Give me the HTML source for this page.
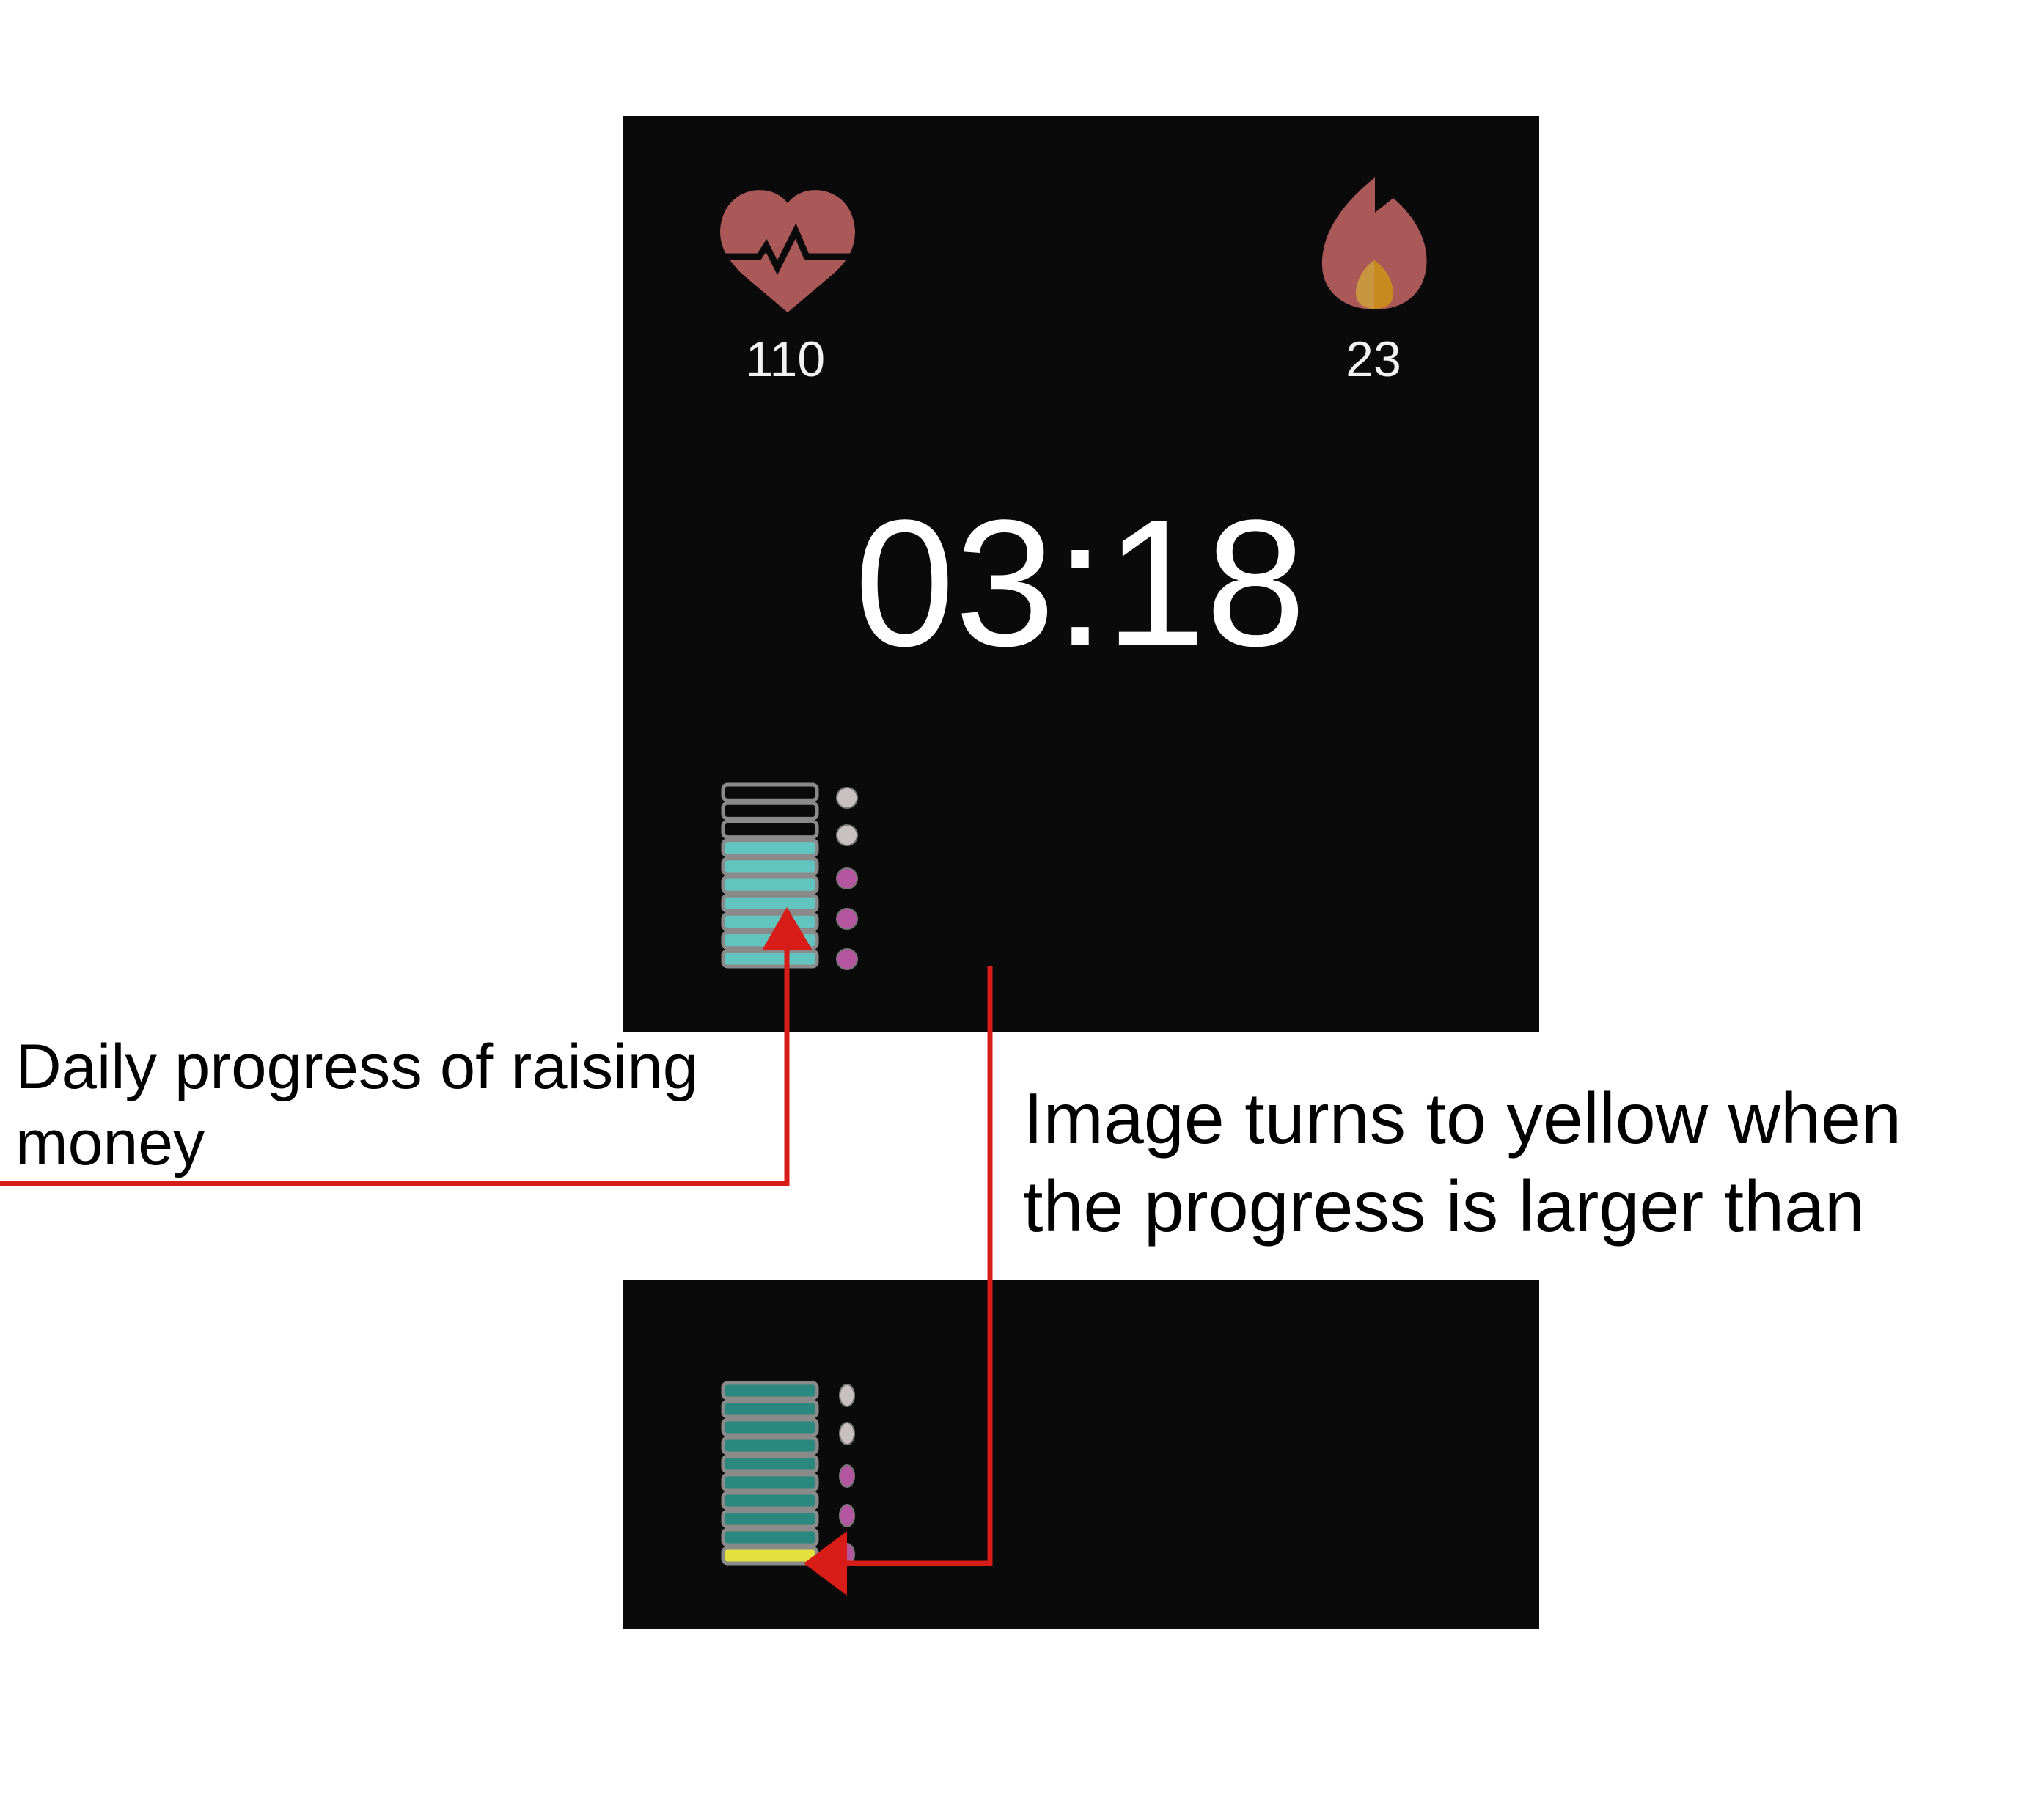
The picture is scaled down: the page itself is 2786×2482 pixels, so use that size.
<!DOCTYPE html>
<html><head><meta charset="utf-8"><style>
html,body{margin:0;padding:0;background:#fff;}
svg{display:block;}
text{font-family:"Liberation Sans",Arial,sans-serif;}
</style></head><body>
<svg id="chart" width="2786" height="2482" viewBox="0 0 2786 2482" xmlns="http://www.w3.org/2000/svg">
<rect x="0" y="0" width="2786" height="2482" fill="#ffffff"/>
<rect x="849" y="158" width="1250" height="1250" fill="#0b0a0b"/>
<g>
<path d="M1074,277 C1050,245 985,255 982,315 C982,345 1000,360 1010,372 L1074,426 L1138,372 C1150,360 1166,345 1166,315 C1163,255 1098,245 1074,277 Z" fill="#ab5858"/>
<polyline points="982,350 1035,350 1045,335 1060,365 1085,315 1100,350 1166,350" fill="none" stroke="#0b0a0b" stroke-width="9"/>
</g>
<text x="1071" y="513" font-size="68" fill="#f2f2f2" text-anchor="middle">110</text>
<g>
<path d="M1875,242 L1875,290 L1900,270 C1940,305 1948,340 1945,365 C1940,405 1910,422 1875,422 C1835,422 1803,400 1803,360 C1803,310 1840,270 1875,242 Z" fill="#ab5858"/>
<path d="M1874,355 C1890,365 1900,385 1900,400 C1900,415 1890,421 1874,421 C1858,421 1849,412 1849,400 C1849,385 1858,365 1874,355 Z" fill="#c8963e"/>
<path d="M1874,355 C1890,365 1900,385 1900,400 C1900,415 1890,421 1874,421 Z" fill="#c8891e"/>
</g>
<text x="1873" y="513" font-size="68" fill="#f2f2f2" text-anchor="middle">23</text>
<text x="1473" y="880" font-size="246" fill="#ffffff" text-anchor="middle">03:18</text>
<g id="bar1"></g>
<g id="dots1"></g>
<rect x="849" y="1745" width="1250" height="476" fill="#0b0a0b"/>
<g id="bar2"></g>
<g id="dots2"></g>
<g>
<polyline points="1073,1292 1073,1614 0,1614" fill="none" stroke="#d81c17" stroke-width="7"/>
<polygon points="1073,1237 1039,1296 1108,1296" fill="#d81c17"/>
</g>
<g>
<polyline points="1350,1317 1350,2132 1150,2132" fill="none" stroke="#d81c17" stroke-width="7"/>
<polygon points="1096,2132 1155,2088 1155,2176" fill="#d81c17"/>
</g>
<text x="21" y="1484" font-size="86" fill="#000" textLength="931" lengthAdjust="spacingAndGlyphs">Daily progress of raising</text>
<text x="21" y="1588" font-size="86" fill="#000">money</text>
<text x="1395" y="1559" font-size="98" fill="#000" textLength="1198" lengthAdjust="spacingAndGlyphs">Image turns to yellow when</text>
<text x="1395" y="1679" font-size="98" fill="#000" textLength="1148" lengthAdjust="spacingAndGlyphs">the progress is larger than</text>
</svg>
<script>
// segment states from top to bottom: 0 empty, 1 filled, 2 highlight
const mainSegments = [0,0,0,1,1,1,1,1,1,1];
const detailSegments = [1,1,1,1,1,1,1,1,1,2];
const mainDots = [0,0,1,1,1];
const detailDots = [0,0,1,1,1];
const NS = "http://www.w3.org/2000/svg";
function drawBar(gid, segs, top, bottom, fillColor) {
  const g = document.getElementById(gid);
  const n = segs.length, h = (bottom - top) / n;
  const x = 986, w = 128;
  for (let i = 0; i < n; i++) {
    const r = document.createElementNS(NS, "rect");
    
    
    r.setAttribute("x", x); r.setAttribute("y", top + i * h + 2);
    r.setAttribute("width", w); r.setAttribute("height", h - 4);
    r.setAttribute("rx", 6);
    const s = segs[i];
    r.setAttribute("fill", s === 0 ? "#0b0a0b" : (s === 2 ? "#e4e040" : fillColor));
    r.setAttribute("stroke", "#8a8a8a"); r.setAttribute("stroke-width", 5);
    g.appendChild(r);
  }
}
function drawDots(gid, dots, ys, rx, ry) {
  const g = document.getElementById(gid);
  dots.forEach((d, i) => {
    const c = document.createElementNS(NS, "ellipse");
    
    
    c.setAttribute("cx", 1155); c.setAttribute("cy", ys[i]);
    c.setAttribute("rx", rx); c.setAttribute("ry", ry);
    c.setAttribute("fill", d ? "#b455a0" : "#c8bfc0");
    c.setAttribute("stroke", "#777"); c.setAttribute("stroke-width", 2);
    g.appendChild(c);
  });
}
drawBar("bar1", mainSegments, 1068, 1320, "#62c4bf");
drawBar("bar2", detailSegments, 1884, 2134, "#2a887e");
drawDots("dots1", mainDots, [1088, 1139, 1198, 1253, 1308], 14, 14);
drawDots("dots2", detailDots, [1903, 1955, 2013, 2067, 2120], 10, 15);
</script>
</body></html>
